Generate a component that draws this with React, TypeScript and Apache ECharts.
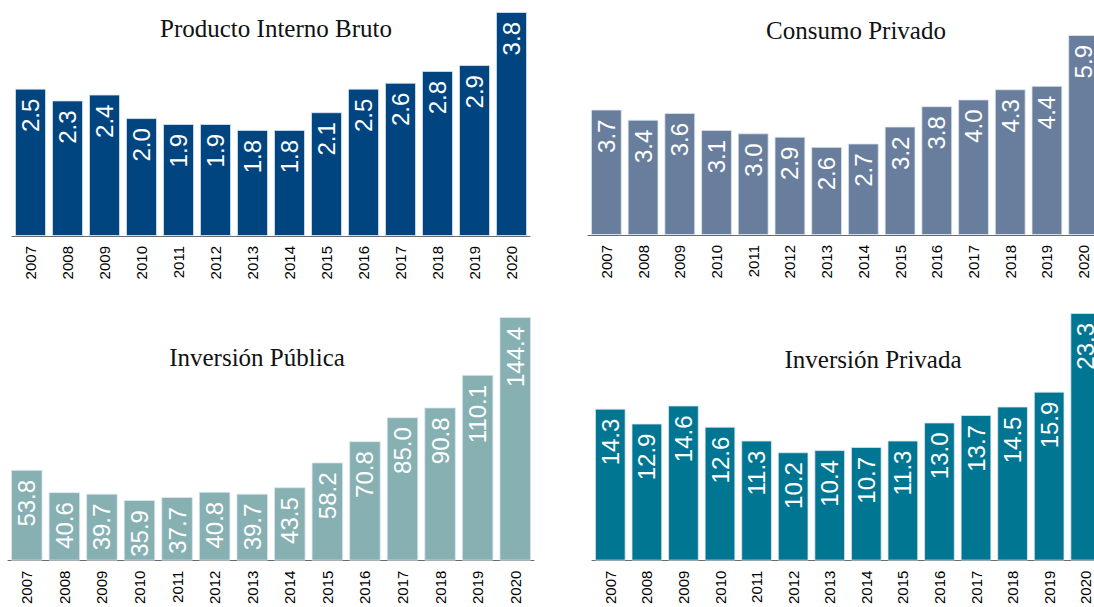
import React, { useEffect, useRef } from "react";
import * as echarts from "echarts";

const years = ["2007","2008","2009","2010","2011","2012","2013","2014","2015","2016","2017","2018","2019","2020"];
const pib = [2.5, 2.3, 2.4, 2.0, 1.9, 1.9, 1.8, 1.8, 2.1, 2.5, 2.6, 2.8, 2.9, 3.8];
const consumo = [3.7, 3.4, 3.6, 3.1, 3.0, 2.9, 2.6, 2.7, 3.2, 3.8, 4.0, 4.3, 4.4, 5.9];
const invPublica = [53.8, 40.6, 39.7, 35.9, 37.7, 40.8, 39.7, 43.5, 58.2, 70.8, 85.0, 90.8, 110.1, 144.4];
const invPrivada = [14.3, 12.9, 14.6, 12.6, 11.3, 10.2, 10.4, 10.7, 11.3, 13.0, 13.7, 14.5, 15.9, 23.3];

const titles = ["Producto Interno Bruto", "Consumo Privado", "Inversión Pública", "Inversión Privada"];
const CW = 1110;
const panels = [
  { data: pib, color: "#00457f", grid: { left: 12, right: CW - 530, top: 12, bottom: 371 }, title: [276, 28] },
  { data: consumo, color: "#687e9c", grid: { left: 588, right: CW - 1102, top: 35, bottom: 372 }, title: [856, 30] },
  { data: invPublica, color: "#87b0b3", grid: { left: 8, right: CW - 534, top: 317, bottom: 43 }, title: [257, 357] },
  { data: invPrivada, color: "#007692", grid: { left: 592, right: CW - 1104, top: 313, bottom: 43 }, title: [873, 359] },
];

export default function App() {
  const ref = useRef<HTMLDivElement>(null);
  useEffect(() => {
    const chart = echarts.init(ref.current!, null, { renderer: "svg" });
    const option: any = {
      animation: false,
      backgroundColor: "#ffffff",
      grid: panels.map((p) => ({ ...p.grid, containLabel: false })),
      xAxis: panels.map((p, i) => ({
        type: "category",
        gridIndex: i,
        data: years,
        axisLine: { lineStyle: { color: "#6b6b6b", width: 1.2 } },
        axisTick: { length: 5, lineStyle: { color: "#6b6b6b" } },
        axisLabel: {
          rotate: 90,
          fontSize: 15,
          color: "#000",
          margin: 10,
          fontFamily: "'Liberation Sans', Arial, sans-serif",
        },
      })),
      yAxis: panels.map((p, i) => ({
        type: "value",
        gridIndex: i,
        min: 0,
        max: "dataMax",
        show: false,
        splitLine: { show: false },
      })),
      series: panels.map((p, i) => ({
        type: "bar",
        xAxisIndex: i,
        yAxisIndex: i,
        data: p.data,
        barCategoryGap: "16%",
        itemStyle: { color: p.color, borderColor: "rgba(220,230,240,0.8)", borderWidth: 1 },
        label: {
          show: true,
          position: "insideTop",
          rotate: 90,
          align: "right",
          verticalAlign: "middle",
          distance: 10,
          color: "#ffffff",
          fontSize: 24,
          fontFamily: "'Liberation Sans', Arial, sans-serif",
          formatter: (v: any) => Number(v.value).toFixed(1),
        },
      })),
      graphic: panels.map((p, i) => ({
        type: "text",
        x: p.title[0],
        y: p.title[1],
        style: {
          text: titles[i],
          textAlign: "center",
          textVerticalAlign: "middle",
          fontSize: 25,
          fontFamily: "'Liberation Serif', 'Times New Roman', serif",
          fill: "#111",
        },
      })),
    };
    chart.setOption(option);
    return () => chart.dispose();
  }, []);
  return (
    <div style={{ position: "fixed", left: 0, top: 0, width: 1094, height: 607, overflow: "hidden", background: "#fff" }}>
      <div ref={ref} style={{ width: CW, height: 607 }} />
    </div>
  );
}
